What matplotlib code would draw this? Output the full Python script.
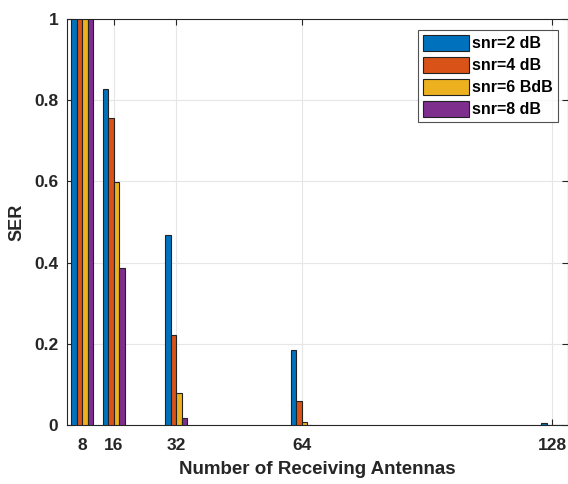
import numpy as np
import matplotlib
matplotlib.use("Agg")
import matplotlib.pyplot as plt

plt.rcParams['font.family'] = ['Liberation Sans', 'DejaVu Sans']
plt.rcParams['font.weight'] = 'bold'

# --- Data ---
antennas = [8, 16, 32, 64, 128]
ser_2db = [1.0, 0.827, 0.468, 0.185, 0.004]
ser_4db = [1.0, 0.755, 0.222, 0.059, 0.0]
ser_6db = [1.0, 0.598, 0.080, 0.007, 0.0]
ser_8db = [1.0, 0.387, 0.0165, 0.0005, 0.0]
labels = ['snr=2 dB', 'snr=4 dB', 'snr=6 BdB', 'snr=8 dB']
colors = ['#0072BD', '#D95319', '#EDB120', '#7E2F8E']

# --- Plot ---
fig = plt.figure(figsize=(5.68, 4.84), dpi=100)
ax = fig.add_axes([0.1174, 0.1219, 0.882, 0.839])

x = np.array(antennas, dtype=float)
bw = 1.4
series = [ser_2db, ser_4db, ser_6db, ser_8db]
for i, (vals, lab, c) in enumerate(zip(series, labels, colors)):
    offs = (i - 1.5) * bw
    ax.bar(x + offs, vals, width=bw, color=c, edgecolor='#222222',
           linewidth=0.8, label=lab, zorder=3)

ax.set_xlim(4, 132)
ax.set_ylim(0, 1)
ax.set_xticks(antennas)
ax.set_yticks([0, 0.2, 0.4, 0.6, 0.8, 1.0])
ax.set_yticklabels(['0', '0.2', '0.4', '0.6', '0.8', '1'])
ax.grid(True, color='#e6e6e6', linewidth=0.8, zorder=0)
ax.tick_params(direction='in', top=True, right=True, length=4,
               labelsize=12.5, colors='#262626', width=0.8)
ax.tick_params(axis='x', pad=9)
ax.tick_params(axis='y', pad=6)
for lbl in ax.get_xticklabels() + ax.get_yticklabels():
    lbl.set_fontweight('bold')
for sp in ax.spines.values():
    sp.set_color('#262626')
    sp.set_linewidth(0.8)

ax.set_xlabel('Number of Receiving Antennas', fontsize=13.5, fontweight='bold',
              color='#262626', labelpad=6)
ax.set_ylabel('SER', fontsize=13, fontweight='bold', color='#262626',
              labelpad=6)

leg = ax.legend(loc='upper right', bbox_to_anchor=(0.98, 0.972),
                fontsize=11.5, frameon=True, fancybox=False,
                handlelength=2.9, handleheight=1.15, handletextpad=0.2,
                labelspacing=0.35, borderpad=0.3, borderaxespad=0)
leg.get_frame().set_edgecolor('#262626')
leg.get_frame().set_linewidth(0.8)
for t in leg.get_texts():
    t.set_fontweight('bold')

fig.savefig('out.png', dpi=100)
